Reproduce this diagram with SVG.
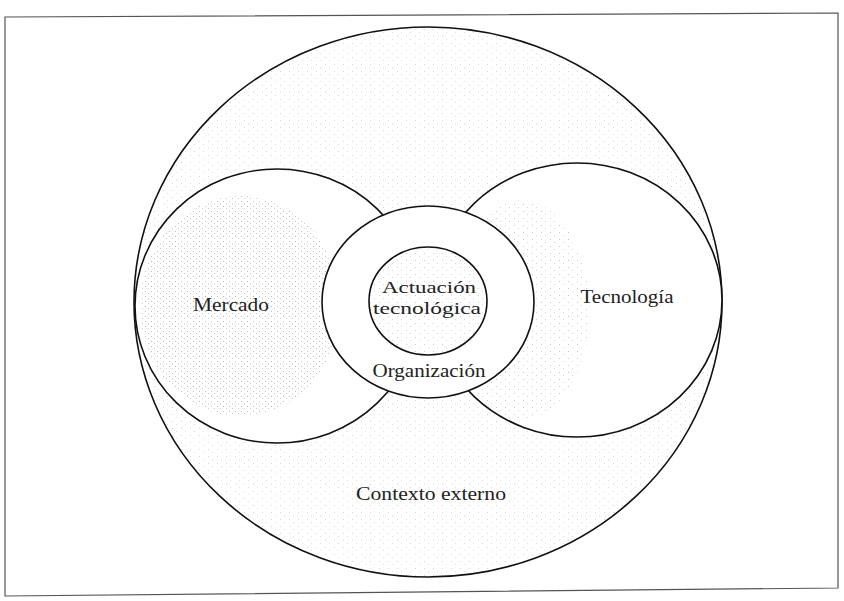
<svg xmlns="http://www.w3.org/2000/svg" width="844" height="601" viewBox="0 0 844 601">
  <defs>
    <pattern id="dots" width="9" height="7" patternUnits="userSpaceOnUse">
      <rect x="1" y="1" width="1" height="1" fill="#9a9a9a"/>
      <rect x="5" y="4" width="1" height="1" fill="#b0b0b0"/>
    </pattern>
    <pattern id="dotsDense" width="6" height="5" patternUnits="userSpaceOnUse">
      <rect x="1" y="1" width="1" height="1" fill="#8a8a8a"/>
      <rect x="4" y="3" width="1" height="1" fill="#a0a0a0"/>
    </pattern>
    <style>
      .ring { fill: none; stroke: #111; stroke-width: 1.6; }
      .frame { fill: none; stroke: #555; stroke-width: 1.2; }
      .lbl { font-family: "Liberation Serif", "Times New Roman", serif; font-size: 18px; fill: #222; text-anchor: middle; }
      .sm { font-size: 16px; }
    </style>
  </defs>
  <rect width="844" height="601" fill="#fff"/>
  <path class="frame" d="M5,17 L838,13 L838,588 L5,596 Z"/>

  <g id="contexto">
    <ellipse cx="428" cy="302" rx="294" ry="275" fill="url(#dots)" opacity="0.4"/>
    <ellipse class="ring" cx="428" cy="302" rx="294" ry="275"/>
    <text class="lbl" x="431" y="500" textLength="150" lengthAdjust="spacingAndGlyphs">Contexto externo</text>
  </g>

  <g id="mercado">
    <ellipse cx="277" cy="306" rx="142" ry="137" fill="#fff"/>
    <ellipse cx="240" cy="306" rx="100" ry="110" fill="url(#dotsDense)" opacity="0.55"/>
    <ellipse class="ring" cx="277" cy="306" rx="142" ry="137"/>
    <text class="lbl" x="231" y="311" textLength="76" lengthAdjust="spacingAndGlyphs">Mercado</text>
  </g>

  <g id="tecnologia">
    <ellipse cx="577" cy="300" rx="145" ry="137" fill="#fff"/>
    <ellipse cx="520" cy="310" rx="70" ry="110" fill="url(#dots)" opacity="0.55"/>
    <ellipse class="ring" cx="577" cy="300" rx="145" ry="137"/>
    <text class="lbl" x="627" y="303" textLength="93" lengthAdjust="spacingAndGlyphs">Tecnología</text>
  </g>

  <g id="organizacion">
    <ellipse cx="428" cy="302" rx="106" ry="96" fill="#fff"/>
    <ellipse class="ring" cx="428" cy="302" rx="106" ry="96"/>
    <text class="lbl" x="429" y="377" textLength="113" lengthAdjust="spacingAndGlyphs">Organización</text>
  </g>

  <g id="actuacion">
    <ellipse cx="428" cy="301" rx="59" ry="54" fill="url(#dots)" opacity="0.5"/>
    <ellipse class="ring" cx="428" cy="301" rx="59" ry="54"/>
    <text class="lbl sm" x="429" y="293" textLength="94" lengthAdjust="spacingAndGlyphs">Actuación</text>
    <text class="lbl sm" x="427" y="314" textLength="108" lengthAdjust="spacingAndGlyphs">tecnológica</text>
  </g>

  <g id="connectors"></g>
</svg>
